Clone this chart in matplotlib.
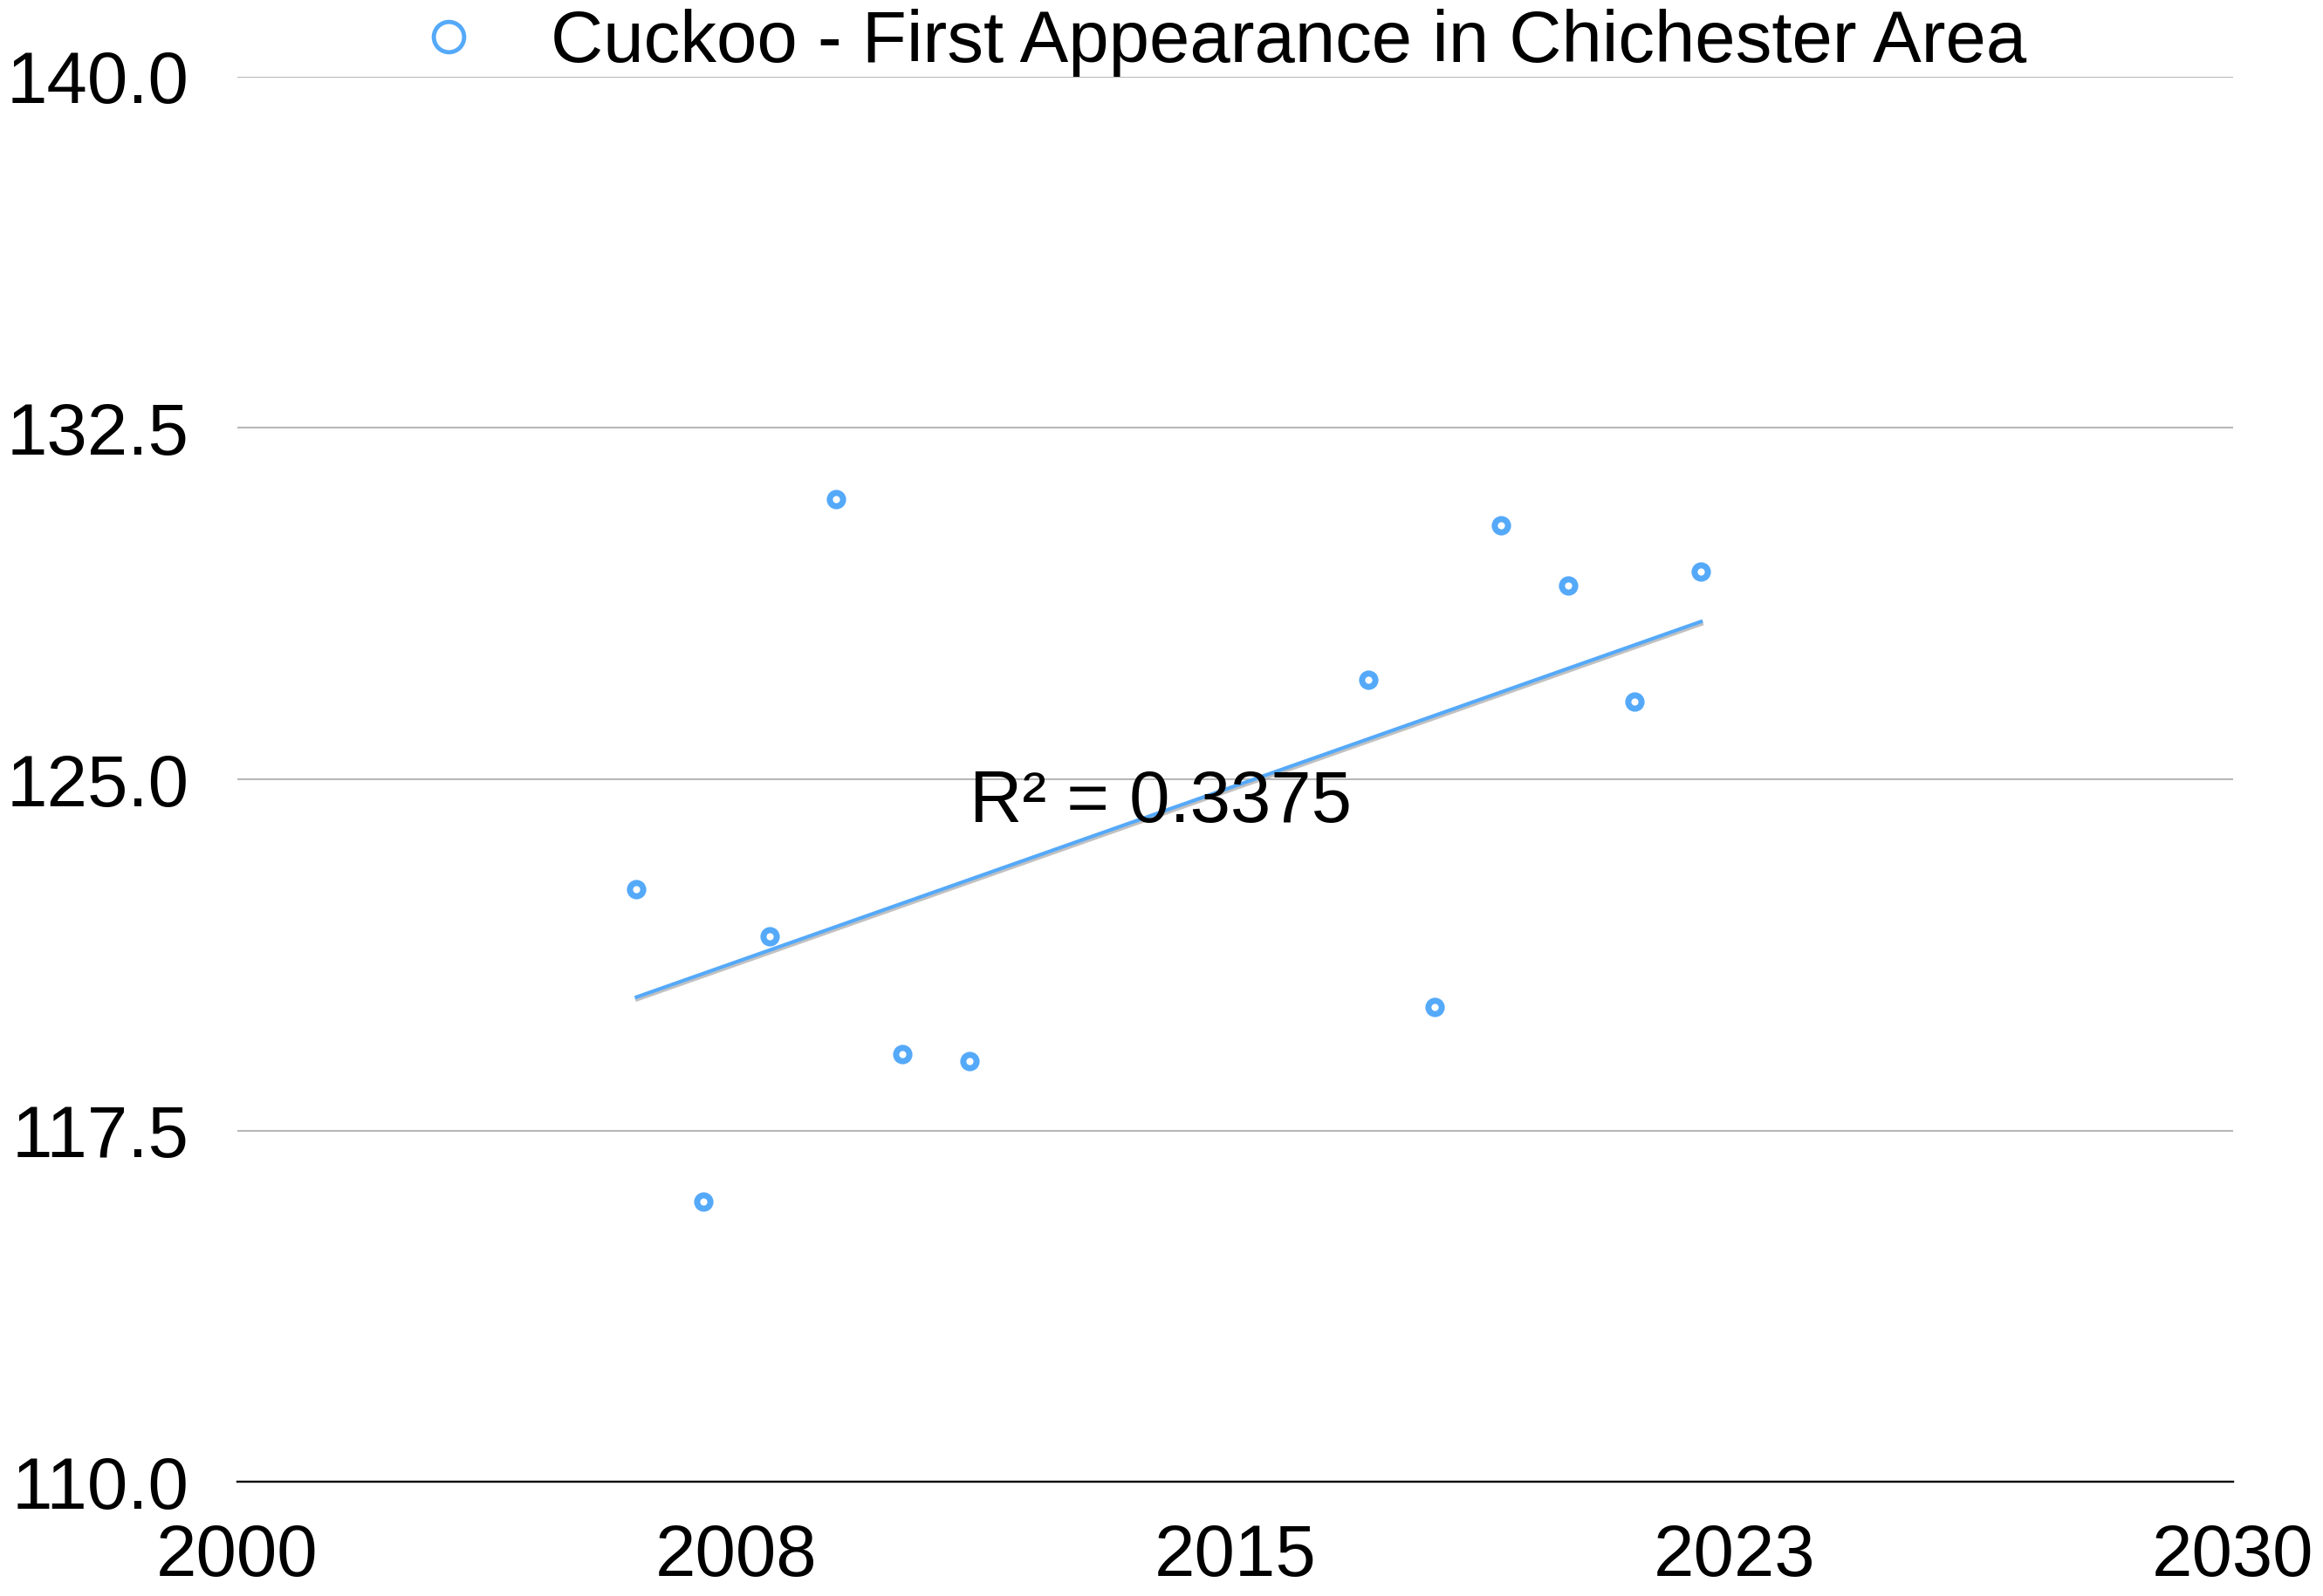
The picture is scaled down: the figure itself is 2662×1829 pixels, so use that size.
import numpy as np
import matplotlib
matplotlib.use("Agg")
import matplotlib.pyplot as plt
import matplotlib.patheffects as pe
from matplotlib.lines import Line2D

plt.rcParams['font.family'] = ['Liberation Sans', 'DejaVu Sans']

# first sighting, day of year
years = [2006, 2007, 2008, 2009, 2010, 2011, 2017, 2018, 2019, 2020, 2021, 2022]
days = [122.65, 115.98, 121.65, 130.99, 119.14, 118.98,
        127.12, 120.14, 130.42, 129.14, 126.65, 129.43]
label = 'Cuckoo - First Appearance in Chichester Area'
r2_text = 'R² = 0.3375'

x_ticks = [2000, 2007.5, 2015, 2022.5, 2030]
x_labels = ['2000', '2008', '2015', '2023', '2030']
y_ticks = [110.0, 117.5, 125.0, 132.5, 140.0]

blue = '#55a9f9'

fig = plt.figure(figsize=(26.62, 18.29), dpi=100)
ax = fig.add_axes([0.1022, 0.0716, 0.8591, 0.8803])

x = np.array(years, dtype=float)
y = np.array(days)
ax.plot(x, y, linestyle='none', marker='o', ms=11, mew=5,
        mfc='white', mec=blue, zorder=4)

# linear trend
slope, icpt = np.polyfit(x, y, 1)
xs = np.array([x.min(), x.max()])
ax.plot(xs, slope * xs + icpt, color=blue, lw=3, zorder=3,
        path_effects=[pe.SimpleLineShadow(offset=(0.5, -2), shadow_color='#999999', alpha=0.6),
                      pe.Normal()])
ax.text(2011, 124.5, r2_text, fontsize=60, va='center', ha='left', zorder=5)

ax.set_xlim(2000, 2030)
ax.set_ylim(110, 140)
ax.set_xticks(x_ticks)
ax.set_xticklabels(x_labels)
ax.set_yticks(y_ticks)
ax.set_yticklabels(['%.1f' % v for v in y_ticks])
ax.tick_params(axis='both', length=0, labelsize=60)
ax.tick_params(axis='x', pad=34)
ax.tick_params(axis='y', pad=40)

for s in ['top', 'right', 'left']:
    ax.spines[s].set_visible(False)
ax.spines['bottom'].set_linewidth(1.7)
ax.spines['bottom'].set_color('black')
ax.spines['bottom'].set_zorder(5)
ax.grid(axis='y', color='#b8b8b8', lw=1.5)
ax.set_axisbelow(True)

handle = Line2D([], [], linestyle='none', marker='o', ms=25, mew=3.5,
                mfc='white', mec=blue)
fig.legend([handle], [label], loc='center', bbox_to_anchor=(0.517, 0.973),
           frameon=False, fontsize=60, handletextpad=0.4, borderpad=0)

fig.savefig('out.png', dpi=100)
